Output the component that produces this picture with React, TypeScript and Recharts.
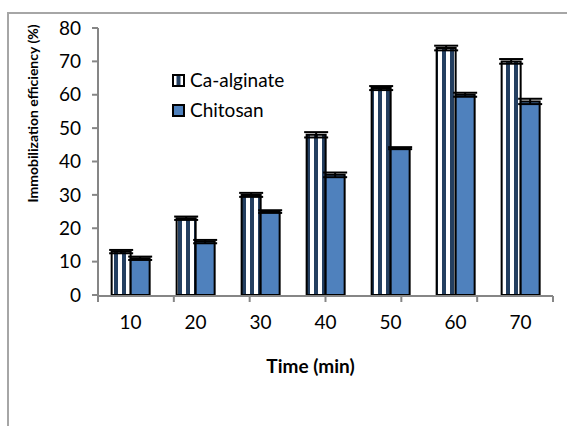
import React from 'react'
import { BarChart, Bar, XAxis, YAxis, ErrorBar, Legend } from 'recharts'

const categories = ['10', '20', '30', '40', '50', '60', '70']
const caAlginate = [13, 23, 30, 48, 62, 74, 70]
const caAlginateErr = [0.5, 0.5, 0.6, 0.8, 0.6, 0.7, 0.7]
const chitosan = [11, 16, 25, 36, 44, 60, 58]
const chitosanErr = [0.5, 0.5, 0.4, 0.7, 0.3, 0.6, 0.8]
const yTicks = [0, 10, 20, 30, 40, 50, 60, 70, 80]
const seriesNames = ['Ca-alginate', 'Chitosan']

const FONT = 'Lato, "Liberation Sans", sans-serif'
const AXIS_GRAY = '#868686'
const NAVY = '#243F60'
const BLUE = '#4F81BD'

const data = categories.map((t, i) => ({
  t,
  ca: caAlginate[i],
  caErr: caAlginateErr[i],
  ch: chitosan[i],
  chErr: chitosanErr[i],
}))

// tick marks sit on the category boundaries, not the centres
const edgeTicks = [...categories.map((_, i) => i), categories.length]

const LegendBox = () => (
  <div style={{ fontFamily: FONT, fontSize: 19, color: '#000', lineHeight: '30px' }}>
    {seriesNames.map((name, i) => (
      <div key={name} style={{ display: 'flex', alignItems: 'center' }}>
        <svg width={13} height={13} style={{ marginRight: 5 }}>
          {i === 0 ? (
            <g>
              <rect x={1} y={1} width={11} height={11} fill="#fff" />
              <rect x={4.5} y={1} width={4} height={11} fill={NAVY} />
            </g>
          ) : (
            <rect x={1} y={1} width={11} height={11} fill={BLUE} />
          )}
          <rect x={1} y={1} width={11} height={11} fill="none" stroke="#000" strokeWidth={2} />
        </svg>
        <span>{name}</span>
      </div>
    ))}
  </div>
)

export default function App() {
  return (
    <div style={{ position: 'absolute', left: 0, top: 0, width: 567, height: 426, background: '#fff' }}>
      {/* outer chart frame */}
      <div
        style={{
          position: 'absolute',
          left: 7,
          top: 12,
          width: 600,
          height: 500,
          borderLeft: '2px solid #A6A6A6',
          borderTop: '2px solid #A6A6A6',
        }}
      />
      <div style={{ position: 'absolute', left: 0, top: 0 }}>
        <BarChart
          width={567}
          height={426}
          data={data}
          margin={{ top: 28, right: 14, bottom: 100, left: 0 }}
          barCategoryGap="21%"
          barGap={0}
        >
          <defs>
            <pattern id="caStripes" patternUnits="userSpaceOnUse" width={8} height={8}>
              <rect x={0} y={0} width={8} height={8} fill="#fff" />
              <rect x={2} y={0} width={4} height={8} fill={NAVY} />
            </pattern>
          </defs>
          <XAxis
            dataKey="t"
            height={1}
            axisLine={false}
            tickLine={false}
            tickSize={6}
            tickMargin={15}
            tick={{ fill: '#000', fontSize: 19, fontFamily: FONT }}
            interval={0}
          />
          <XAxis
            xAxisId="edges"
            type="number"
            domain={[0, categories.length]}
            ticks={edgeTicks}
            interval={0}
            height={30}
            axisLine={{ stroke: AXIS_GRAY, strokeWidth: 2 }}
            tickLine={{ stroke: AXIS_GRAY, strokeWidth: 2 }}
            tickSize={6}
            tick={() => <g />}
            label={{
              value: 'Time (min)',
              position: 'bottom',
              offset: 34,
              dx: -15,
              style: { fontFamily: FONT, fontSize: 19, fontWeight: 'bold', fill: '#000' },
            }}
          />
          <YAxis
            width={98}
            domain={[0, 80]}
            ticks={yTicks}
            interval={0}
            axisLine={{ stroke: AXIS_GRAY, strokeWidth: 2 }}
            tickLine={{ stroke: AXIS_GRAY, strokeWidth: 2 }}
            tickSize={6}
            tickMargin={11}
            tick={{ fill: '#000', fontSize: 19, fontFamily: FONT }}
            label={{
              value: 'Immobilization efficiency (%)',
              angle: -90,
              position: 'insideLeft',
              offset: 33,
              dy: -48,
              style: { fontFamily: FONT, fontSize: 14, fontWeight: 'bold', fill: '#000', textAnchor: 'middle' },
            }}
          />
          <Legend
            layout="vertical"
            verticalAlign="middle"
            align="center"
            content={<LegendBox />}
            wrapperStyle={{ left: 172, top: 65, width: 'auto' }}
          />
          <Bar
            dataKey="ca"
            name={seriesNames[0]}
            fill="url(#caStripes)"
            stroke="#000"
            strokeWidth={2}
            isAnimationActive={false}
          >
            <ErrorBar dataKey="caErr" width={12} stroke="#000" strokeWidth={2} direction="y" isAnimationActive={false} />
          </Bar>
          <Bar
            dataKey="ch"
            name={seriesNames[1]}
            fill={BLUE}
            stroke="#000"
            strokeWidth={2}
            isAnimationActive={false}
          >
            <ErrorBar dataKey="chErr" width={12} stroke="#000" strokeWidth={2} direction="y" isAnimationActive={false} />
          </Bar>
        </BarChart>
      </div>
    </div>
  )
}
